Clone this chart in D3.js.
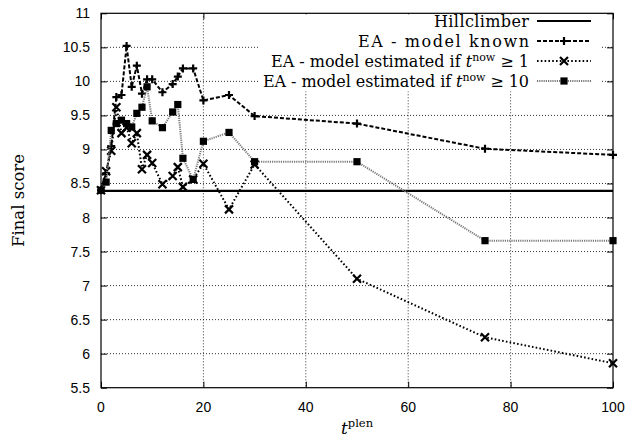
<!DOCTYPE html>
<html>
<head>
<meta charset="utf-8">
<script src="https://cdn.jsdelivr.net/npm/d3@7"></script>
<style>
  html, body { margin: 0; padding: 0; background: #fff; }
  svg { display: block; }
  .tick-label { font-family: "Liberation Sans", Arial, sans-serif; font-size: 14px; fill: #000; }
  .serif { font-family: "DejaVu Serif", "Liberation Serif", serif; fill: #000; }
</style>
</head>
<body>
<svg id="chart" width="631" height="440"></svg>
<script>
// values
const tplen = [0, 1, 2, 3, 4, 5, 6, 7, 8, 9, 10, 12, 14, 15, 16, 18, 20, 25, 30, 50, 75, 100];
const hillclimber = 8.39;
const eaKnown = [8.40, 8.65, 9.05, 9.77, 9.80, 10.52, 9.92, 10.23, 9.82, 10.03, 10.03, 9.84, 9.96, 10.07, 10.19, 10.19, 9.72, 9.80, 9.49, 9.38, 9.01, 8.92];
const eaEst1 = [8.40, 8.68, 8.98, 9.62, 9.24, 9.32, 9.09, 9.24, 8.71, 8.92, 8.80, 8.49, 8.61, 8.74, 8.45, 8.56, 8.79, 8.12, 8.78, 7.10, 6.24, 5.86];
const eaEst10 = [8.40, 8.52, 9.28, 9.38, 9.43, 9.38, 9.33, 9.53, 9.62, 9.92, 9.42, 9.32, 9.55, 9.66, 8.87, 8.56, 9.12, 9.25, 8.82, 8.82, 7.66, 7.66];
const xTicks = [0, 20, 40, 60, 80, 100];
const yTicks = [5.5, 6, 6.5, 7, 7.5, 8, 8.5, 9, 9.5, 10, 10.5, 11];

const svg = d3.select('#chart');
const pLeft = 101, pRight = 613, pTop = 13.3, pBottom = 387.7;

const x = d3.scaleLinear().domain([0, 100]).range([pLeft, pRight]);
const y = d3.scaleLinear().domain([5.5, 11]).range([pBottom, pTop]);

// grid
const grid = svg.append('g');
grid.selectAll('.hg').data(yTicks.slice(1, -1)).join('line')
  .attr('x1', pLeft).attr('x2', pRight)
  .attr('y1', d => y(d)).attr('y2', d => y(d))
  .attr('stroke', '#000').attr('stroke-width', 0.8).attr('stroke-dasharray', '1,2');
grid.selectAll('.vg').data(xTicks.slice(1, -1)).join('line')
  .attr('y1', pTop).attr('y2', pBottom)
  .attr('x1', d => x(d)).attr('x2', d => x(d))
  .attr('stroke', '#000').attr('stroke-width', 0.8).attr('stroke-dasharray', '1,2');

// axes, ticks pointing inward on all four sides
const fmt = d3.format('~g');
const axL = svg.append('g').attr('transform', `translate(${pLeft},0)`)
  .call(d3.axisRight(y).tickValues(yTicks).tickSize(6).tickFormat(''));
const axR = svg.append('g').attr('transform', `translate(${pRight},0)`)
  .call(d3.axisLeft(y).tickValues(yTicks).tickSize(6).tickFormat(''));
const axB = svg.append('g').attr('transform', `translate(0,${pBottom})`)
  .call(d3.axisTop(x).tickValues(xTicks).tickSize(6).tickFormat(''));
const axT = svg.append('g').attr('transform', `translate(0,${pTop})`)
  .call(d3.axisBottom(x).tickValues(xTicks).tickSize(6).tickFormat(''));
[axL, axR, axB, axT].forEach(a => {
  a.select('.domain').remove();
  a.selectAll('.tick line').attr('stroke', '#000').attr('stroke-width', 1);
});

svg.append('g').selectAll('text').data(yTicks).join('text')
  .attr('class', 'tick-label')
  .attr('x', 90).attr('y', d => y(d) + 5)
  .attr('text-anchor', 'end')
  .text(d => fmt(d));
svg.append('g').selectAll('text').data(xTicks).join('text')
  .attr('class', 'tick-label')
  .attr('x', d => x(d)).attr('y', 412)
  .attr('text-anchor', 'middle')
  .text(d => fmt(d));

// series
const pts = vals => tplen.map((t, i) => [t, vals[i]]);
const line = d3.line().x(d => x(d[0])).y(d => y(d[1]));

svg.append('line')
  .attr('x1', x(0)).attr('x2', x(100))
  .attr('y1', y(hillclimber)).attr('y2', y(hillclimber))
  .attr('stroke', '#000').attr('stroke-width', 2.2);

function plus(g, cx, cy, s) {
  g.append('path').attr('d', `M${cx - s},${cy}H${cx + s}M${cx},${cy - s}V${cy + s}`)
    .attr('stroke', '#000').attr('stroke-width', 2.2).attr('fill', 'none');
}
function cross(g, cx, cy, s) {
  g.append('path').attr('d', `M${cx - s},${cy - s}L${cx + s},${cy + s}M${cx - s},${cy + s}L${cx + s},${cy - s}`)
    .attr('stroke', '#000').attr('stroke-width', 2.2).attr('fill', 'none');
}
function box(g, cx, cy, s) {
  g.append('rect').attr('x', cx - s).attr('y', cy - s).attr('width', 2 * s).attr('height', 2 * s)
    .attr('fill', '#000');
}

const series = [
  { name: 'EA - model known', vals: eaKnown, stroke: '#000', dash: '4,2', width: 2, mark: plus },
  { name: 'EA - model estimated if t^now ≥ 1', vals: eaEst1, stroke: '#000', dash: '1.6,2.2', width: 2, mark: cross },
  { name: 'EA - model estimated if t^now ≥ 10', vals: eaEst10, stroke: '#7a7a7a', dash: '1.2,1', width: 2, mark: box }
];

series.forEach(s => {
  const g = svg.append('g');
  g.append('path').datum(pts(s.vals)).attr('d', line)
    .attr('fill', 'none').attr('stroke', s.stroke)
    .attr('stroke-width', s.width).attr('stroke-dasharray', s.dash);
  pts(s.vals).forEach(d => s.mark(g, x(d[0]), y(d[1]), s.mark === box ? 3.6 : 4));
});

// border
svg.append('rect').attr('x', pLeft).attr('y', pTop)
  .attr('width', pRight - pLeft).attr('height', pBottom - pTop)
  .attr('fill', 'none').attr('stroke', '#000').attr('stroke-width', 1.2);

// legend with opaque background
const legend = svg.append('g');
const rowY = [21, 41, 61, 81];
const rowWidth = [95, 171, 258, 266];
const textRight = 529, sampleL = 537, sampleR = 591;
legend.append('rect').attr('x', 258).attr('y', pTop + 1).attr('width', 342).attr('height', 77).attr('fill', '#fff');

function labelText(sel, label) {
  const m = label.match(/^(.*)t\^now (.*)$/);
  if (!m) { sel.text(label); return; }
  sel.append('tspan').text(m[1]);
  sel.append('tspan').attr('font-style', 'italic').text('t');
  sel.append('tspan').attr('font-size', '11px').attr('dy', -6).text('now');
  sel.append('tspan').attr('dy', 6).text(' ' + m[2]);
}

const entries = [{ name: 'Hillclimber', stroke: '#000', dash: null, width: 2.2, mark: null }].concat(series);
entries.forEach((e, i) => {
  const t = legend.append('text').attr('class', 'serif')
    .attr('x', textRight).attr('y', rowY[i] + 5.5)
    .attr('text-anchor', 'end').attr('font-size', 16)
    .attr('textLength', rowWidth[i]);
  labelText(t, e.name);
  legend.append('line').attr('x1', sampleL).attr('x2', sampleR)
    .attr('y1', rowY[i]).attr('y2', rowY[i])
    .attr('stroke', e.stroke).attr('stroke-width', e.width)
    .attr('stroke-dasharray', e.dash);
  if (e.mark) e.mark(legend, (sampleL + sampleR) / 2, rowY[i], e.mark === box ? 3.6 : 4);
});

// axis titles
svg.append('text').attr('class', 'serif')
  .attr('transform', `translate(24,${(pTop + pBottom) / 2}) rotate(-90)`)
  .attr('text-anchor', 'middle').attr('font-size', 16.5)
  .text('Final score');
const xl = svg.append('text').attr('class', 'serif')
  .attr('x', 357).attr('y', 434).attr('text-anchor', 'middle').attr('font-size', 17);
xl.append('tspan').attr('font-style', 'italic').text('t');
xl.append('tspan').attr('font-size', '11.5px').attr('dy', -7).text('plen');
</script>
</body>
</html>
